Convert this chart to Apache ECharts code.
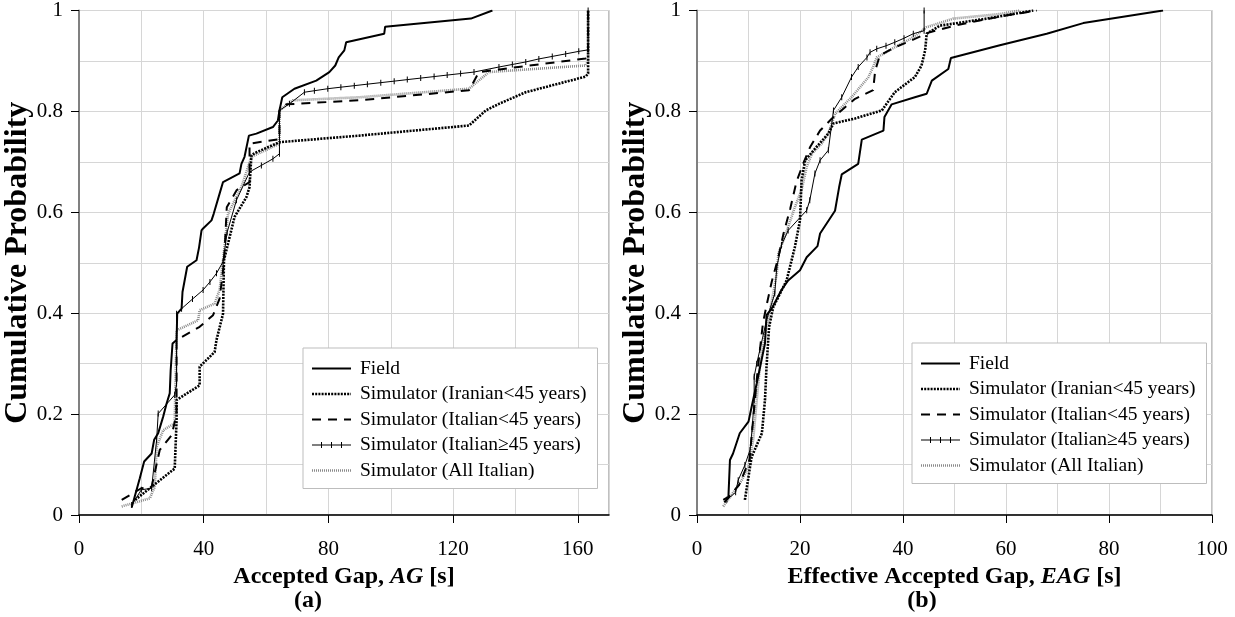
<!DOCTYPE html>
<html><head><meta charset="utf-8">
<script src="https://cdn.jsdelivr.net/npm/echarts@6/dist/echarts.min.js"></script>
<style>html,body{margin:0;padding:0;background:#fff}#c{width:1235px;height:617px}</style>
</head><body><div id="c"></div>
<script>
const seriesNames = ['Field','Simulator (Iranian<45 years)','Simulator (Italian<45 years)','Simulator (Italian\u226545 years)','Simulator (All Italian)'];
const xTicksA = [0,40,80,120,160];
const xTicksB = [0,20,40,60,80,100];
const yTicks = [0,0.2,0.4,0.6,0.8,1];

// (a) Accepted Gap
const fieldA = [[16.9,0.015],[19.5,0.073],[20.9,0.106],[23.3,0.122],[24.1,0.149],[25.4,0.162],[27.0,0.195],[28.1,0.221],[29.1,0.241],[29.4,0.287],[30.0,0.340],[31.3,0.347],[31.5,0.399],[32.9,0.409],[33.2,0.442],[34.7,0.492],[37.7,0.505],[38.5,0.53],[39.3,0.564],[39.8,0.568],[42.5,0.584],[43.2,0.597],[45.1,0.637],[46.2,0.660],[51.5,0.677],[52.1,0.696],[53.1,0.710],[54.5,0.752],[56.9,0.756],[62.2,0.769],[63.8,0.782],[64.3,0.802],[65.2,0.828],[69.1,0.845],[76.1,0.861],[80.3,0.878],[82.2,0.891],[83.3,0.907],[85.1,0.921],[85.7,0.937],[97.9,0.954],[98.2,0.968],[125.7,0.984],[132.6,1.0]];
const iranA = [[18.0,0.03],[23.3,0.056],[30.7,0.092],[31.3,0.188],[31.3,0.228],[38.7,0.257],[38.7,0.294],[43.5,0.323],[44.1,0.347],[46.2,0.399],[46.5,0.505],[49.9,0.591],[53.7,0.630],[54.7,0.650],[55.3,0.713],[56.9,0.719],[64.3,0.739],[89.9,0.752],[125.1,0.772],[130.5,0.802],[134.7,0.815],[143.3,0.838],[162.5,0.869],[163.3,0.875],[163.3,1.0]];
const italYoungA = [[13.7,0.030],[20.0,0.053],[23.3,0.056],[25.9,0.129],[29.7,0.158],[31.3,0.20],[31.3,0.347],[38.7,0.373],[43.0,0.396],[45.1,0.429],[46.5,0.50],[47.4,0.61],[50.6,0.644],[54.7,0.66],[54.7,0.736],[64.3,0.745],[64.3,0.802],[66.5,0.814],[89.9,0.822],[125.1,0.842],[128.3,0.878],[162.5,0.905],[163.3,0.91],[163.3,1.0]];
const italOldA = [[16.9,0.020],[20.0,0.05],[23.3,0.053],[24.9,0.149],[25.4,0.201],[30.7,0.238],[31.3,0.26],[31.3,0.29],[31.3,0.32],[31.3,0.35],[31.3,0.38],[31.3,0.399],[32.9,0.409],[36.4,0.428],[39.8,0.446],[42.0,0.462],[44.1,0.479],[46.2,0.502],[47.5,0.56],[50.5,0.624],[54.7,0.680],[58.5,0.693],[62.2,0.706],[64.3,0.716],[64.3,0.76],[64.3,0.802],[67.5,0.815],[72.3,0.838],[75.5,0.841],[79.8,0.845],[84.0,0.848],[88.3,0.851],[92.5,0.854],[96.8,0.857],[101.1,0.860],[105.3,0.863],[109.6,0.866],[113.9,0.869],[118.1,0.872],[122.4,0.875],[126.7,0.878],[134.7,0.888],[139.0,0.893],[143.3,0.898],[147.5,0.904],[151.8,0.909],[156.1,0.914],[160.3,0.919],[163.3,0.922],[163.3,1.0]];
const italAllA = [[13.7,0.017],[22.7,0.033],[24.3,0.056],[24.9,0.135],[27.0,0.168],[30.7,0.182],[31.3,0.366],[38.2,0.386],[38.7,0.406],[43.5,0.419],[45.1,0.446],[46.2,0.505],[47.8,0.597],[52.1,0.650],[55.3,0.710],[64.3,0.736],[64.3,0.802],[68.6,0.822],[89.9,0.828],[125.1,0.845],[131.5,0.878],[162.5,0.891],[163.3,0.9],[163.3,1.0]];

// (b) Effective Accepted Gap
const fieldB = [[5.1,0.030],[6.1,0.036],[6.4,0.109],[7.0,0.122],[8.3,0.162],[10.0,0.185],[10.6,0.214],[11.6,0.261],[13.2,0.340],[13.5,0.396],[14.5,0.409],[16.4,0.446],[17.7,0.465],[20.0,0.485],[21.3,0.511],[23.4,0.533],[23.9,0.558],[26.8,0.603],[27.6,0.650],[28.1,0.675],[31.3,0.696],[32.0,0.744],[36.2,0.762],[36.4,0.789],[37.8,0.814],[42.3,0.828],[44.6,0.835],[45.6,0.861],[48.8,0.884],[49.3,0.906],[58.8,0.931],[67.9,0.954],[75.0,0.975],[90.5,1.0]];
const iranB = [[9.3,0.030],[10.0,0.076],[10.6,0.115],[12.6,0.162],[13.2,0.228],[13.5,0.294],[14.0,0.373],[14.8,0.412],[17.4,0.465],[19.0,0.531],[20.0,0.584],[20.3,0.663],[21.0,0.703],[22.9,0.726],[25.5,0.756],[26.5,0.776],[30.7,0.786],[35.9,0.802],[38.4,0.838],[42.3,0.868],[43.6,0.891],[44.3,0.921],[44.6,0.954],[47.2,0.970],[49.8,0.974],[56.3,0.984],[65.3,1.0]];
const italYoungB = [[5.3,0.025],[8.2,0.06],[10.2,0.11],[11.0,0.20],[11.8,0.29],[12.8,0.38],[13.6,0.42],[14.5,0.462],[15.8,0.511],[16.8,0.558],[18.1,0.607],[19.3,0.66],[20.6,0.696],[22.0,0.73],[23.9,0.762],[26.2,0.786],[30.7,0.825],[34.2,0.842],[34.6,0.881],[35.5,0.911],[38.4,0.927],[41.7,0.941],[45.2,0.957],[50.1,0.970],[53.3,0.977],[60.0,0.99],[66.0,1.0]];
const italOldB = [[5.8,0.03],[7.5,0.045],[8.0,0.069],[9.3,0.099],[10.3,0.129],[10.7,0.17],[11.1,0.228],[11.1,0.274],[11.6,0.300],[12.2,0.327],[13.5,0.386],[15.1,0.439],[15.5,0.492],[16.4,0.535],[17.7,0.564],[21.3,0.604],[21.9,0.624],[22.9,0.677],[23.9,0.703],[25.5,0.723],[26.5,0.802],[28.1,0.828],[30.0,0.868],[31.3,0.888],[33.0,0.907],[33.6,0.917],[34.9,0.924],[36.7,0.930],[38.4,0.937],[40.2,0.945],[42.0,0.954],[44.1,0.960],[44.1,1.0]];
const italAllB = [[5.1,0.017],[7.4,0.050],[8.7,0.069],[10.0,0.096],[10.9,0.149],[11.6,0.228],[12.2,0.294],[13.2,0.360],[14.2,0.406],[14.8,0.439],[15.5,0.479],[15.8,0.518],[16.8,0.545],[17.7,0.571],[19.0,0.610],[20.3,0.644],[21.3,0.690],[22.3,0.716],[24.2,0.736],[25.5,0.756],[26.8,0.795],[30.0,0.828],[33.3,0.868],[34.2,0.888],[34.9,0.907],[38.4,0.927],[42.0,0.947],[44.6,0.967],[49.8,0.984],[58.8,0.993],[62.7,1.0]];

const FONT = '"Liberation Serif", "Times New Roman", serif';
const GRIDC = '#d6d6d6';
const styles = [
  {lineStyle:{color:'#000', width:2, type:'solid'}, symbol:'none'},
  {lineStyle:{color:'#000', width:2.6, type:[2,1.2]}, symbol:'none'},
  {lineStyle:{color:'#000', width:2, type:[9,7]}, symbol:'none'},
  {lineStyle:{color:'#000', width:1}, symbol:'rect', symbolSize:[1,6]},
  {lineStyle:{color:'#8a8a8a', width:2.6, type:[1,1]}, symbol:'none'}
];
const dataA = [fieldA, iranA, italYoungA, italOldA, italAllA];
const dataB = [fieldB, iranB, italYoungB, italOldB, italAllB];

function mkSeries(data, gi) {
  return data.map((d, i) => Object.assign({
    type:'line', name: seriesNames[i], data: d,
    xAxisIndex: gi*2, yAxisIndex: gi, animation:false,
    itemStyle:{color: i===4 ? '#8a8a8a' : '#000'},
    showSymbol: i===3, z: 2 + (4-i)
  }, JSON.parse(JSON.stringify(styles[i]))));
}

// legend pictograms (icon shapes only)
const IW = 39, IH = 6;
function lineIcon(thick, dash, gap, ticks) {
  let p = 'M0,0h0.01v0.01h-0.01z M0,' + (IH-0.01) + 'h0.01v0.01h-0.01z';
  const y0 = (IH - thick) / 2;
  if (!dash) p += ' M0,' + y0 + 'h' + IW + 'v' + thick + 'h-' + IW + 'z';
  else for (let x = 0; x < IW; x += dash + gap) {
    const w = Math.min(dash, IW - x);
    p += ' M' + x + ',' + y0 + 'h' + w + 'v' + thick + 'h-' + w + 'z';
  }
  if (ticks) ticks.forEach(t => { p += ' M' + t + ',0h1v' + IH + 'h-1z'; });
  return 'path://' + p;
}
const icons = [
  lineIcon(2, 0, 0),
  lineIcon(2.6, 2, 1.2),
  lineIcon(2, 9, 7),
  lineIcon(1, 0, 0, [9, 19, 29]),
  lineIcon(2.6, 1, 1)
];
function mkLegend(left, top) {
  return {
    orient:'vertical', left:left, top:top,
    data: seriesNames.map((n,i) => ({name:n, icon: icons[i]})),
    itemWidth:IW, itemHeight:IH, itemGap:5.5,
    padding:[10.5,11,8,9],
    backgroundColor:'#fff', borderColor:'#bdbdbd', borderWidth:1,
    textStyle:{fontFamily:FONT, fontSize:19.5, color:'#000', padding:[0,0,0,4]},
    selectedMode:false
  };
}

function xAxes(gi, max, minorInt, ticks, nameRich) {
  return [
    {gridIndex:gi, type:'value', min:0, max:max, interval:minorInt, position:'bottom',
     axisLine:{show:true, onZero:false, lineStyle:{color:'#000', width:1.5}},
     axisTick:{show:false}, axisLabel:{show:false},
     splitLine:{show:true, lineStyle:{color:GRIDC, width:1}}},
    {gridIndex:gi, type:'value', min:0, max:max, position:'bottom',
     axisLine:{show:false, onZero:false},
     axisTick:{show:true, customValues:ticks, length:8, lineStyle:{color:'#000', width:1}},
     axisLabel:{show:true, customValues:ticks, margin:24, fontFamily:FONT, fontSize:21, color:'#000'},
     splitLine:{show:false},
     name: nameRich, nameLocation:'middle', nameGap:50,
     nameTextStyle:{fontFamily:FONT, fontSize:24, fontWeight:'bold', color:'#000',
       rich:{b:{fontFamily:FONT, fontSize:24, fontWeight:'bold', color:'#000'},
             i:{fontFamily:FONT, fontSize:24, fontWeight:'bold', fontStyle:'italic', color:'#000'}}}}
  ];
}
function yAxis(gi, gap) {
  return {gridIndex:gi, type:'value', min:0, max:1, interval:0.2,
    axisLine:{show:true, lineStyle:{color:'#808080', width:2}},
    axisTick:{show:true, length:8, lineStyle:{color:'#000', width:1}},
    axisLabel:{margin:16, fontFamily:FONT, fontSize:21, color:'#000'},
    splitLine:{show:true, lineStyle:{color:GRIDC, width:1}},
    minorTick:{show:false, splitNumber:2},
    minorSplitLine:{show:true, lineStyle:{color:GRIDC, width:1}},
    name:'Cumulative Probability', nameLocation:'middle', nameGap:gap, nameMoveOverlap:false,
    nameTextStyle:{fontFamily:FONT, fontSize:32, fontWeight:'bold', color:'#000'}
  };
}

const chart = echarts.init(document.getElementById('c'), null, {renderer:'canvas'});
chart.setOption({
  backgroundColor:'#fff',
  animation:false,
  grid:[
    {left:79, top:10, width:530, height:505, show:true, borderColor:'#808080', borderWidth:1, backgroundColor:'transparent'},
    {left:697, top:10, width:515, height:505, show:true, borderColor:'#808080', borderWidth:1, backgroundColor:'transparent'}
  ],
  xAxis: xAxes(0, 170, 20, xTicksA, '{b|Accepted Gap, }{i|AG}{b| [s]}')
          .concat(xAxes(1, 100, 10, xTicksB, '{b|Effective Accepted Gap, }{i|EAG}{b| [s]}')),
  yAxis: [yAxis(0, 45), yAxis(1, 45)],
  legend: [mkLegend(303, 348), mkLegend(912, 343)],
  graphic:[
    {type:'text', x:308, y:601, style:{text:'(a)', textAlign:'center', textVerticalAlign:'middle', font:'bold 24px "Liberation Serif"', fill:'#000'}},
    {type:'text', x:922, y:601, style:{text:'(b)', textAlign:'center', textVerticalAlign:'middle', font:'bold 24px "Liberation Serif"', fill:'#000'}}
  ],
  series: mkSeries(dataA, 0).concat(mkSeries(dataB, 1))
});
</script>
</body></html>
